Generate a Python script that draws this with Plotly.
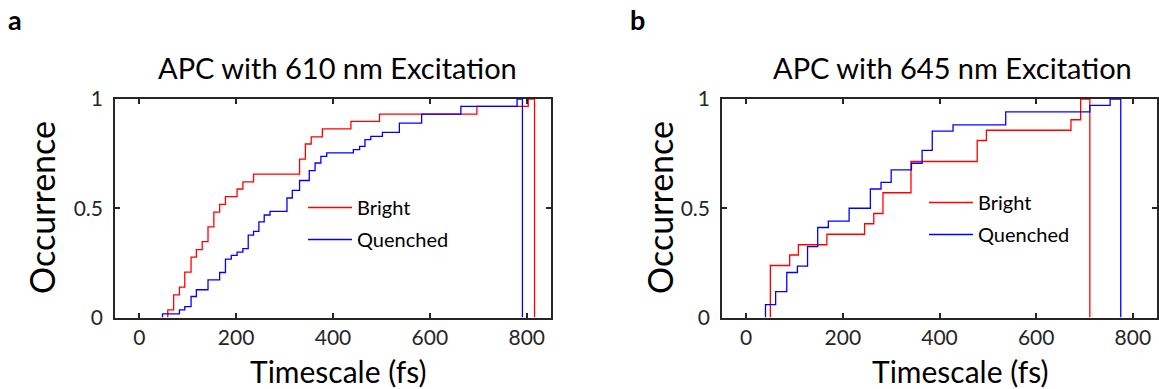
import plotly.graph_objects as go

# ---------------- data ----------------
# Panel a: APC with 610 nm excitation (empirical CDF steps)
a_bright_x = [59, 71, 83, 94, 107, 118, 130, 142, 154, 166, 178, 202, 214, 236,
              331, 343, 355, 378, 437, 496, 697, 803]
a_bright_y = [0.035, 0.104, 0.139, 0.208, 0.276, 0.311, 0.347, 0.415, 0.482, 0.518,
              0.553, 0.588, 0.621, 0.656, 0.725, 0.794, 0.827, 0.863, 0.898, 0.931,
              0.966, 1.0]
a_bright_end = 816

a_quenched_x = [48, 83, 94, 107, 118, 142, 166, 178, 190, 202, 214, 225, 236, 247,
                258, 270, 305, 316, 331, 351, 363, 375, 387, 442, 455, 466, 478, 502,
                537, 583, 664, 780]
a_quenched_y = [0.017, 0.035, 0.050, 0.096, 0.127, 0.172, 0.206, 0.267, 0.284, 0.299,
                0.315, 0.377, 0.394, 0.438, 0.469, 0.486, 0.547, 0.582, 0.627, 0.672,
                0.707, 0.737, 0.753, 0.768, 0.783, 0.814, 0.829, 0.847, 0.890, 0.931,
                0.966, 1.0]
a_quenched_end = 791

# Panel b: APC with 645 nm excitation
b_bright_x = [50, 90, 108, 167, 245, 264, 283, 341, 478, 497, 672, 692]
b_bright_y = [0.238, 0.286, 0.333, 0.381, 0.429, 0.476, 0.571, 0.714, 0.810, 0.857,
              0.905, 1.0]
b_bright_end = 711

b_quenched_x = [40, 61, 84, 106, 127, 148, 170, 213, 257, 279, 300, 342, 364, 385,
                428, 537, 711, 753]
b_quenched_y = [0.059, 0.118, 0.206, 0.235, 0.324, 0.412, 0.441, 0.500, 0.588, 0.618,
                0.676, 0.706, 0.765, 0.853, 0.882, 0.941, 0.971, 1.0]
b_quenched_end = 775

series_names = ["Bright", "Quenched"]
panel_titles = ["APC with 610 nm Excitation", "APC with 645 nm Excitation"]
panel_letters = ["a", "b"]
x_ticks = [0, 200, 400, 600, 800]
y_ticks = [0, 0.5, 1]
y_tick_text = ["0", "0.5", "1"]
x_label = "Timescale (fs)"
y_label = "Occurrence"

# ---------------- figure ----------------
W, H = 1159, 389
RED, BLUE = "#ff0000", "#0000ff"
FONT = "Lato, Carlito, 'Open Sans', sans-serif"
AX = "#262626"


def stairs(xs, ys, end):
    # cdf-style staircase: start at 0, climb at each step, drop to 0 at the end
    return [xs[0]] + list(xs) + [end], [0] + list(ys) + [0]


fig = go.Figure()
panels = [
    ("x", "y", "legend", "a", [(a_bright_x, a_bright_y, a_bright_end),
                               (a_quenched_x, a_quenched_y, a_quenched_end)]),
    ("x2", "y2", "legend2", "b", [(b_bright_x, b_bright_y, b_bright_end),
                                  (b_quenched_x, b_quenched_y, b_quenched_end)]),
]
for xa, ya, leg, tag, data in panels:
    for (xs, ys, end), name, col in zip(data, series_names, [RED, BLUE]):
        sx, sy = stairs(xs, ys, end)
        fig.add_trace(go.Scatter(
            x=sx, y=sy, mode="lines", name=name, xaxis=xa, yaxis=ya,
            line=dict(color=col, width=1.3, shape="hv"),
            legend=leg, legendgroup=tag + name, cliponaxis=False,
        ))

ydom = [1 - 317.5 / H, 1 - 99 / H]
axis_common = dict(
    showline=True, linecolor=AX, linewidth=1.6, mirror="ticks",
    ticks="inside", ticklen=5, tickwidth=1.6, tickcolor=AX,
    showgrid=False, zeroline=False,
    tickfont=dict(family=FONT, size=21, color=AX),
)
legend_common = dict(xanchor="left", yanchor="top", bgcolor="rgba(0,0,0,0)",
                     borderwidth=0, font=dict(family=FONT, size=20, color="#000"),
                     itemwidth=44, tracegroupgap=3)
fig.update_layout(
    width=W, height=H,
    margin=dict(l=0, r=0, t=0, b=0, autoexpand=False),
    paper_bgcolor="white", plot_bgcolor="white",
    xaxis=dict(domain=[115 / W, 551 / W], range=[-50, 850], tickvals=x_ticks,
               anchor="y", ticklabelstandoff=0, **axis_common),
    yaxis=dict(domain=ydom, range=[0, 1], tickvals=y_ticks, ticktext=y_tick_text,
               anchor="x", ticklabelstandoff=6, **axis_common),
    xaxis2=dict(domain=[722 / W, 1157 / W], range=[-50, 850], tickvals=x_ticks,
                anchor="y2", ticklabelstandoff=0, **axis_common),
    yaxis2=dict(domain=ydom, range=[0, 1], tickvals=y_ticks, ticktext=y_tick_text,
                anchor="x2", ticklabelstandoff=6, **axis_common),
    legend=dict(x=303 / W, y=1 - 188 / H, **legend_common),
    legend2=dict(x=924 / W, y=1 - 183 / H, **legend_common),
    showlegend=True,
)

ann = []
for letter, (lx, ly) in zip(panel_letters, [(15, 20), (637, 20)]):
    ann.append(dict(text=f"<b>{letter}</b>", x=lx / W, y=1 - ly / H,
                    font=dict(family=FONT, size=27, color="#000")))
for title, (tx, ty) in zip(panel_titles, [(337, 68), (952, 68)]):
    ann.append(dict(text=title, x=tx / W, y=1 - ty / H,
                    font=dict(family=FONT, size=29, color="#000")))
for (ox, oy) in [(42, 208), (660, 208)]:
    ann.append(dict(text=y_label, x=ox / W, y=1 - oy / H, textangle=-90,
                    font=dict(family=FONT, size=34, color="#000")))
for (tx, ty) in [(338, 371), (960, 371)]:
    ann.append(dict(text=x_label, x=tx / W, y=1 - ty / H,
                    font=dict(family=FONT, size=30, color="#000")))
for a in ann:
    a.update(xref="paper", yref="paper", xanchor="center", yanchor="middle",
             showarrow=False)
fig.update_layout(annotations=ann)

fig.write_html("out.html")
